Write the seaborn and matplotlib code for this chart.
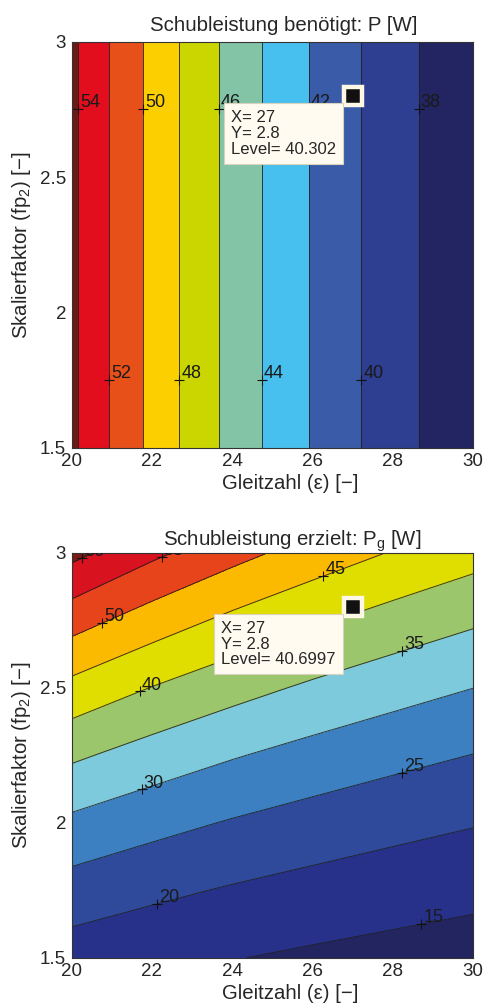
import numpy as np
import seaborn as sns
import matplotlib.pyplot as plt

# --- top panel: required thrust power, depends on Gleitzahl only
eps_req = [20, 21, 22, 23, 24, 25, 26, 27, 28, 29, 30]
fp_req = [1.5, 3.0]
p_req = [54.41, 51.82, 49.46, 47.31, 45.34, 43.53, 41.85, 40.30, 38.86, 37.52, 36.27]
levels_req = [38, 40, 42, 44, 46, 48, 50, 52, 54]
colors_req = ['#222561', '#2e3e90', '#3a5ca8', '#48c0ef', '#84c4a6',
              '#cbd600', '#fcd000', '#e8501a', '#e20d1d', '#6b1a17']
labels_req_hi = [54, 50, 46, 42, 38]
labels_req_lo = [52, 48, 44, 40]

# --- bottom panel: generated thrust power (rows = fp_2, cols = Gleitzahl)
eps_gen = [20, 22, 24, 26, 28, 30]
fp_gen = [1.5, 1.75, 2.0, 2.25, 2.5, 2.75, 3.0]
p_gen = [
    [17.60, 16.28, 15.17, 14.23, 13.43, 12.74],
    [22.88, 21.07, 19.56, 18.29, 17.20, 16.25],
    [28.96, 26.60, 24.63, 22.97, 21.54, 20.31],
    [35.86, 32.87, 30.38, 28.27, 26.47, 24.91],
    [43.56, 39.88, 36.80, 34.20, 31.98, 30.04],
    [52.08, 47.62, 43.90, 40.75, 38.06, 35.72],
    [61.41, 56.10, 51.67, 47.93, 44.72, 41.94],
]
levels_gen = [15, 20, 25, 30, 35, 40, 45, 50, 55, 60]
colors_gen = ['#222560', '#27318a', '#304a9b', '#3c80c2', '#7ccadc', '#9bc66b',
              '#e0dd00', '#fbb900', '#e8441b', '#d8121e', '#7a1a16']
labels_gen = [60, 55, 50, 45, 40, 35, 30, 25, 20, 15]
labels_gen_eps = [20.25, 22.24, 20.75, 26.27, 21.70, 28.22, 21.74, 28.23, 22.13, 28.71]

# data tips
tip_x, tip_y = 27, 2.8
tip_level_req = '40.302'
tip_level_gen = '40.6997'

sns.set_style('white')
plt.rcParams['font.family'] = ['Liberation Sans', 'DejaVu Sans']
plt.rcParams['mathtext.fontset'] = 'custom'
plt.rcParams['mathtext.rm'] = 'Liberation Sans'
plt.rcParams['mathtext.it'] = 'Liberation Sans:italic'

TXT = '#262626'


def style_axes(ax, title, title_x, title_pad):
    ax.set_xlim(20, 30)
    ax.set_ylim(1.5, 3)
    ax.set_xticks([20, 22, 24, 26, 28, 30])
    ax.set_yticks([1.5, 2, 2.5, 3])
    ax.set_yticklabels(['1.5', '2', '2.5', '3'])
    ax.tick_params(direction='in', top=True, right=True, length=4, width=0.7,
                   color='#333333', labelsize=13.5, labelcolor=TXT, pad=4)
    for s in ax.spines.values():
        s.set_color('#333333')
        s.set_linewidth(0.8)
    ax.set_title(title, fontsize=14.7, color=TXT, x=title_x, pad=title_pad)
    ax.set_xlabel('Gleitzahl (ε) [−]', fontsize=14.7, color=TXT)
    ax.xaxis.set_label_coords(0.545, -0.064)
    ax.set_ylabel('Skalierfaktor (fp$_2$) [−]', fontsize=14.7, color=TXT)
    ax.yaxis.set_label_coords(-0.097, 0.5)


def mark_label(ax, x, y, lev):
    ax.plot(x, y, marker='+', color='#111111', ms=7, mew=0.8, clip_on=True)
    ax.annotate(str(lev), (x, y), xytext=(1.5, -1.5), textcoords='offset points',
                ha='left', va='bottom', fontsize=13, color='#1a1a1a',
                annotation_clip=False, clip_on=True)


def seg_point(cs, levels, lev, val, along='y'):
    segs = cs.allsegs[levels.index(lev)]
    seg = max(segs, key=len)
    if along == 'y':
        o = np.argsort(seg[:, 1])
        return float(np.interp(val, seg[o, 1], seg[o, 0])), val
    o = np.argsort(seg[:, 0])
    return val, float(np.interp(val, seg[o, 0], seg[o, 1]))


def data_tip(ax, level):
    ax.plot(tip_x, tip_y, marker='s', ms=12.4, mfc='#111111', mec='#fdf8e6',
            mew=3.2, zorder=6)
    ax.annotate(f'X= {tip_x}\nY= {tip_y}\nLevel= {level}', (tip_x, tip_y),
                xytext=(-12.2, -10.5), textcoords='offset points',
                ha='right', va='top', multialignment='left', fontsize=12,
                color=TXT, linespacing=1.05, zorder=7,
                bbox=dict(boxstyle='square,pad=0.42', fc='#fffbf0',
                          ec='#d9d2bc', lw=0.8))


fig = plt.figure(figsize=(4.83, 10.05), dpi=100)
ax1 = fig.add_axes([0.1484, 0.5545, 0.8314, 0.404])
ax2 = fig.add_axes([0.1484, 0.0471, 0.8314, 0.403])

# top
X1, Y1 = np.meshgrid(eps_req, fp_req)
Z1 = np.vstack([p_req, p_req])
lv1 = [0] + levels_req + [100]
ax1.contourf(X1, Y1, Z1, levels=lv1, colors=colors_req)
cs1 = ax1.contour(X1, Y1, Z1, levels=levels_req, colors='#1e1e1e',
                  linewidths=0.7, alpha=0.85)
for lev in labels_req_hi:
    mark_label(ax1, *seg_point(cs1, levels_req, lev, 2.75), lev)
for lev in labels_req_lo:
    mark_label(ax1, *seg_point(cs1, levels_req, lev, 1.75), lev)
data_tip(ax1, tip_level_req)
style_axes(ax1, 'Schubleistung benötigt: P [W]', 0.529, 8)

# bottom
X2, Y2 = np.meshgrid(eps_gen, fp_gen)
Z2 = np.array(p_gen)
lv2 = [0] + levels_gen + [100]
ax2.contourf(X2, Y2, Z2, levels=lv2, colors=colors_gen)
cs2 = ax2.contour(X2, Y2, Z2, levels=levels_gen, colors='#1e1e1e',
                  linewidths=0.7, alpha=0.85)
for lev, ex in zip(labels_gen, labels_gen_eps):
    mark_label(ax2, *seg_point(cs2, levels_gen, lev, ex, along='x'), lev)
data_tip(ax2, tip_level_gen)
style_axes(ax2, 'Schubleistung erzielt: P$_\\mathrm{g}$ [W]', 0.55, 5)

fig.savefig('out.png', dpi=100)
